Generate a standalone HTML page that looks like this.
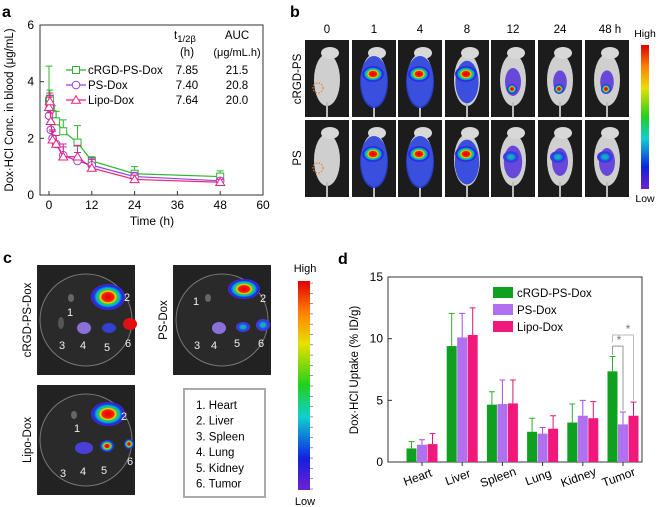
<!DOCTYPE html>
<html><head><meta charset="utf-8"><style>
body{margin:0;background:#fff}
svg{display:block;font-family:"Liberation Sans",Arial,sans-serif}
</style></head><body>
<svg id="fig" width="660" height="507" viewBox="0 0 660 507" xmlns="http://www.w3.org/2000/svg">
<defs>
<radialGradient id="heat" cx="50%" cy="50%" r="50%">
<stop offset="0" stop-color="#e00000"/><stop offset="0.35" stop-color="#ff2000"/><stop offset="0.45" stop-color="#f0e000"/><stop offset="0.55" stop-color="#20d040"/><stop offset="0.68" stop-color="#10b0e0"/><stop offset="0.85" stop-color="#1030e0"/><stop offset="1" stop-color="#6020d0"/></radialGradient>
<radialGradient id="heatlow" cx="50%" cy="50%" r="50%">
<stop offset="0" stop-color="#20c060"/><stop offset="0.35" stop-color="#10a0e0"/><stop offset="0.7" stop-color="#2040e0"/><stop offset="1" stop-color="#6a30d8"/></radialGradient>
<linearGradient id="cbar" x1="0" y1="0" x2="0" y2="1">
<stop offset="0" stop-color="#e00000"/><stop offset="0.15" stop-color="#ff8000"/><stop offset="0.3" stop-color="#e8e000"/><stop offset="0.5" stop-color="#20d020"/><stop offset="0.65" stop-color="#10d0d0"/><stop offset="0.85" stop-color="#1020e0"/><stop offset="1" stop-color="#7020d0"/></linearGradient>
</defs>
<g id="pa"></g>
<g id="pb"></g>
<g id="pc"></g>
<g id="pd"></g>
</svg>
<script>
// ---- Panel a data ----
const timesA = [0, 0.25, 0.5, 1, 2, 4, 8, 12, 24, 48];
const greenA = [3.3, 3.4, 3.0, 2.85, 2.6, 2.25, 1.85, 1.2, 0.75, 0.65];
const greenErrA = [1.25, 0.3, 0.3, 0.3, 0.35, 0.4, 0.6, 0.15, 0.25, 0.2];
const purpleA = [2.8, 3.1, 2.3, 2.0, 1.8, 1.4, 1.2, 1.05, 0.65, 0.5];
const purpleErrA = [0.5, 0.4, 0.3, 0.3, 0.3, 0.3, 0.3, 0.25, 0.15, 0.1];
const pinkA = [3.1, 3.3, 2.6, 1.95, 1.8, 1.35, 1.35, 0.95, 0.55, 0.45];
const pinkErrA = [0.35, 0.3, 0.3, 0.3, 0.3, 0.45, 0.4, 0.3, 0.15, 0.1];
const xTicksA = [0, 12, 24, 36, 48, 60];
const yTicksA = [0, 2, 4, 6];
// ---- Panel d data ----
const organs = ["Heart", "Liver", "Spleen", "Lung", "Kidney", "Tumor"];
const cRGD = [1.1, 9.4, 4.65, 2.45, 3.2, 7.35];
const cRGDErr = [0.55, 2.65, 1.05, 1.1, 1.5, 1.2];
const psDox = [1.4, 10.1, 4.7, 2.3, 3.75, 3.05];
const psDoxErr = [0.4, 1.95, 1.95, 0.5, 1.25, 1.0];
const lipoDox = [1.45, 10.3, 4.75, 2.7, 3.55, 3.75];
const lipoDoxErr = [0.85, 2.2, 1.9, 1.05, 1.35, 1.1];
const yTicksD = [0, 5, 10, 15];

const NS = "http://www.w3.org/2000/svg";
function mk(parent, tag, attrs, text){
  const e = document.createElementNS(NS, tag);
  for (const k in attrs) e.setAttribute(k, attrs[k]);
  if (text !== undefined) e.textContent = text;
  parent.appendChild(e); return e;
}
// ===== Panel a =====
const pa = document.getElementById('pa');
const xA = t => 49 + t * (214 / 60);
const yA = v => 195 - v * (170 / 6);
let t = mk(pa,'text',{x:2,y:17,'font-size':16,'font-weight':'bold'},'a');


let fr = mk(pa,'rect',{x:40,y:25,width:223,height:170,fill:'none',stroke:'#333','stroke-width':1});


xTicksA.forEach(v=>{
  const tk = mk(pa,'line',{x1:xA(v),x2:xA(v),y1:195,y2:191,stroke:'#333'});
  
  
  const lb = mk(pa,'text',{x:xA(v),y:209,'font-size':12,'text-anchor':'middle'},v);
  
  
});
yTicksA.forEach(v=>{
  const tk = mk(pa,'line',{x1:40,x2:44,y1:yA(v),y2:yA(v),stroke:'#333'});
  
  
  const lb = mk(pa,'text',{x:34,y:yA(v)+4,'font-size':12,'text-anchor':'end'},v);
  
  
});
t = mk(pa,'text',{x:152,y:225,'font-size':12,'text-anchor':'middle'},'Time (h)');


t = mk(pa,'text',{x:0,y:0,'font-size':11.5,'text-anchor':'middle',transform:'translate(13,110) rotate(-90)'},'Dox·HCl Conc. in blood (μg/mL)');


const seriesA = [
  {vals:greenA, err:greenErrA, color:'#2cb52c', mark:'square', name:'cRGD-PS-Dox'},
  {vals:purpleA, err:purpleErrA, color:'#9a3fe0', mark:'circle', name:'PS-Dox'},
  {vals:pinkA, err:pinkErrA, color:'#e8227f', mark:'triangle', name:'Lipo-Dox'}
];
function marker(g, type, x, y, color){
  let m;
  if (type==='square') m = mk(g,'rect',{x:x-3.5,y:y-3.5,width:7,height:7,fill:'#fff',stroke:color,'stroke-width':1});
  else if (type==='circle') m = mk(g,'circle',{cx:x,cy:y,r:3.8,fill:'#fff',stroke:color,'stroke-width':1});
  else m = mk(g,'polygon',{points:`${x},${y-4.2} ${x+4.5},${y+3.2} ${x-4.5},${y+3.2}`,fill:'#fff',stroke:color,'stroke-width':1});
  return m;
}
seriesA.forEach(s=>{
  const g = mk(pa,'g',{});
  
  
  const pts = timesA.map((tt,i)=>xA(tt)+','+yA(s.vals[i])).join(' ');
  const ln = mk(g,'polyline',{points:pts,fill:'none',stroke:s.color,'stroke-width':1.2});
  
  
  timesA.forEach((tt,i)=>{
    const x = xA(tt), y1 = yA(s.vals[i]), y2 = yA(s.vals[i]+s.err[i]);
    const eb = mk(g,'path',{d:`M${x},${y1}V${y2}M${x-3.5},${y2}H${x+3.5}`,stroke:s.color,fill:'none','stroke-width':1});
    
    
    const m = marker(g,s.mark,x,y1,s.color);
    
    
  });
});
const tblT = ['7.85','7.40','7.64'], tblA = ['21.5','20.8','20.0'];
seriesA.forEach((s,i)=>{
  const y = 70 + i*15;
  const g = mk(pa,'g',{});
  
  
  mk(g,'line',{x1:66,x2:86,y1:y,y2:y,stroke:s.color,'stroke-width':1.2});
  marker(g,s.mark,76,y,s.color);
  mk(g,'text',{x:88,y:y+4,'font-size':11.5},s.name);
  const a = mk(pa,'text',{x:187,y:y+4,'font-size':11.5,'text-anchor':'middle'},tblT[i]);
  
  
  const b = mk(pa,'text',{x:237,y:y+4,'font-size':11.5,'text-anchor':'middle'},tblA[i]);
  
  
});
t = mk(pa,'text',{x:174,y:39,'font-size':11.5});


t.innerHTML = 't<tspan font-size="9.5" dy="3">1/2β</tspan>';
mk(pa,'text',{x:187,y:56,'font-size':11.5,'text-anchor':'middle'},'(h)');
t = mk(pa,'text',{x:237,y:39,'font-size':11.5,'text-anchor':'middle'},'AUC');


mk(pa,'text',{x:237,y:56,'font-size':11,'text-anchor':'middle'},'(μg/mL.h)');

// ===== Panel b =====
const pb = document.getElementById('pb');
t = mk(pb,'text',{x:290,y:17,'font-size':16,'font-weight':'bold'},'b');


const colX = [305,352,398,445,491,538,585];
const colLab = ['0','1','4','8','12','24','48 h'];
const rowY = [40,120];
colLab.forEach((l,i)=>{
  const tx = mk(pb,'text',{x:colX[i]+22+(i===6?3:0),y:33,'font-size':11.5,'text-anchor':'middle'},l);
  
  
});
[['cRGD-PS',79],['PS',158]].forEach(([l,y])=>{
  const tx = mk(pb,'text',{x:0,y:0,'font-size':11.5,'text-anchor':'middle',transform:`translate(301,${y}) rotate(-90)`},l);
  
  
});
const blob = [[0,0],[1,1],[1,1],[0.8,0.8],[0.5,0.3],[0.4,0.25],[0.4,0.25],[0,0],[1,1],[1,1],[0.85,0.8],[0.6,0.6],[0.5,0.3],[0.5,0.3]];
rowY.forEach((y,r)=>colX.forEach((x,c)=>{
  const g = mk(pb,'g',{});
  
  
  mk(g,'rect',{x:x,y:y,width:44,height:77,fill:'#1c1c1c'});
  mk(g,'ellipse',{cx:x+22,cy:y+40,rx:13,ry:26,fill:'#cfcfcf'});
  mk(g,'ellipse',{cx:x+25,cy:y+13,rx:9,ry:6,fill:'#d8d8d8'});
  mk(g,'rect',{x:x+21,y:y+62,width:2,height:15,fill:'#bbb'});
  const b = blob[r*7+c];
  if (b[0]>0){
    const big = b[0]>0.7;
    mk(g,'ellipse',{cx:x+22,cy:y+42,rx:12*b[0]+2,ry:24*b[0]+2,fill:big?'#2a40e0':'#5a3ad8',opacity:0.9});
    if (big) mk(g,'ellipse',{cx:x+21,cy:y+34,rx:11,ry:8,fill:'url(#heat)'});
    else if (r===0) mk(g,'ellipse',{cx:x+21,cy:y+49,rx:5,ry:5,fill:'url(#heat)'});
    else mk(g,'ellipse',{cx:x+20,cy:y+37,rx:8,ry:6,fill:'url(#heatlow)'});
  } else {
    mk(g,'circle',{cx:x+13,cy:y+48,r:5,fill:'none',stroke:'#f08020','stroke-width':1.2,'stroke-dasharray':'1.5 1.5'});
  }
}));
let cb = mk(pb,'rect',{x:641,y:45,width:8,height:144,fill:'url(#cbar)'});


mk(pb,'text',{x:645,y:37,'font-size':10.5,'text-anchor':'middle'},'High');
mk(pb,'text',{x:645,y:202,'font-size':10.5,'text-anchor':'middle'},'Low');

// ===== Panel c =====
const pc = document.getElementById('pc');
t = mk(pc,'text',{x:3,y:263,'font-size':16,'font-weight':'bold'},'c');


function dish(x,y,label,lx,blobs,nums){
  const g = mk(pc,'g',{});
  
  
  mk(g,'rect',{x:x,y:y,width:98,height:110,fill:'#222'});
  mk(g,'circle',{cx:x+49,cy:y+55,r:46,fill:'#2a2a2a',stroke:'#777','stroke-width':1});
  blobs.forEach(b=>mk(g,'ellipse',{cx:x+b[0],cy:y+b[1],rx:b[2],ry:b[3],fill:b[4]}));
  nums.forEach((p,i)=>{
    mk(g,'text',{x:x+p[0],y:y+p[1]+4,'font-size':11,fill:'#eee','text-anchor':'middle'},String(i+1));
  });
  const tl = mk(pc,'text',{x:0,y:0,'font-size':11.5,'text-anchor':'middle',transform:`translate(${lx},${y+55}) rotate(-90)`},label);
  
  
}
dish(37,265,'cRGD-PS-Dox',31,
 [[71,32,17,13,'url(#heat)'],[47,63,7,6,'#8a70d8'],[72,63,7,5,'#3040d0'],[93,59,7,6,'#e01010'],[34,33,3,4,'#666'],[24,58,3,6,'#555']],
 [[33,47],[90,32],[25,80],[46,80],[70,82],[91,78]]);
dish(173,265,'PS-Dox',167,
 [[71,24,16,10,'url(#heat)'],[46,63,7,6,'#8a70d8'],[70,62,7,5,'url(#heatlow)'],[90,60,7,6,'url(#heatlow)'],[35,33,3,4,'#666']],
 [[23,36],[90,33],[24,80],[41,80],[64,78],[88,78]]);
dish(37,385,'Lipo-Dox',31,
 [[71,29,17,12,'url(#heat)'],[47,63,9,6,'#4a40d8'],[70,61,7,6,'url(#heat)'],[92,59,5,5,'url(#heat)'],[37,30,3,4,'#666']],
 [[40,43],[87,31],[26,88],[46,86],[67,85],[93,76]]);
const lg = mk(pc,'g',{});


mk(lg,'rect',{x:184,y:389,width:81,height:108,fill:'#fff',stroke:'#aaa','stroke-width':2});
['1. Heart','2. Liver','3. Spleen','4. Lung','5. Kidney','6. Tumor'].forEach((s,i)=>mk(lg,'text',{x:196,y:409+i*15.7,'font-size':11.5},s));
cb = mk(pc,'rect',{x:298,y:281,width:12,height:209,fill:'url(#cbar)'});


for(let i=0;i<=20;i++) mk(pc,'line',{x1:310,x2:313,y1:283+i*10.3,y2:283+i*10.3,stroke:'#555','stroke-width':0.6});
mk(pc,'text',{x:305,y:272,'font-size':11,'text-anchor':'middle'},'High');
mk(pc,'text',{x:305,y:505,'font-size':11,'text-anchor':'middle'},'Low');

// ===== Panel d =====
const pd = document.getElementById('pd');
t = mk(pd,'text',{x:338,y:264,'font-size':16,'font-weight':'bold'},'d');


const yD = v => 462 - v*(185/15);
const xD = i => 422 + i*40.2;
fr = mk(pd,'rect',{x:388,y:277,width:254,height:185,fill:'none',stroke:'#333'});


yTicksD.forEach(v=>{
  mk(pd,'line',{x1:388,x2:392,y1:yD(v),y2:yD(v),stroke:'#333'});
  const lb = mk(pd,'text',{x:383,y:yD(v)+4,'font-size':12,'text-anchor':'end'},v);
  
  
});
t = mk(pd,'text',{x:0,y:0,'font-size':11.5,'text-anchor':'middle',transform:'translate(358,370) rotate(-90)'},'Dox·HCl Uptake (% ID/g)');


const seriesD = [[cRGD,cRGDErr,'#10a020',-10.5,'cRGD-PS-Dox','#2fae2f'],[psDox,psDoxErr,'#b070f0',0,'PS-Dox','#a050e0'],[lipoDox,lipoDoxErr,'#f0187a',10.5,'Lipo-Dox','#e0186a']];
seriesD.forEach(([vals,errs,col,off,name,ec])=>{
  vals.forEach((v,i)=>{
    const cx = xD(i)+off;
    const eb = mk(pd,'path',{d:`M${cx},${yD(v)}V${yD(v+errs[i])}M${cx-3},${yD(v+errs[i])}H${cx+3}`,stroke:ec,fill:'none','stroke-width':1});
    
    
    const r = mk(pd,'rect',{x:cx-5,y:yD(v),width:10,height:yD(0)-yD(v),fill:col});
    
    
  });
});
organs.forEach((o,i)=>{
  mk(pd,'line',{x1:xD(i),x2:xD(i),y1:462,y2:466,stroke:'#333'});
  const lb = mk(pd,'text',{x:0,y:0,'font-size':12,'text-anchor':'middle',transform:`translate(${xD(i)-3},${481}) rotate(-20)`},o);
  
  
});
seriesD.forEach(([v,e,col,off,name],i)=>{
  const g = mk(pd,'g',{});
  
  
  mk(g,'rect',{x:493,y:287+i*17,width:20,height:11,fill:col});
  mk(g,'text',{x:517,y:297+i*17,'font-size':11.5},name);
});
const sig = mk(pd,'g',{});


const tx = xD(5);
mk(sig,'path',{d:`M${tx-10.5},${yD(8.7)}V${yD(9.4)}H${tx}V${yD(4.2)}`,stroke:'#999',fill:'none'});
mk(sig,'path',{d:`M${tx-10.5},${yD(9.7)}V${yD(10.3)}H${tx+10.5}V${yD(5.0)}`,stroke:'#bbb',fill:'none'});
mk(sig,'text',{x:tx-4,y:yD(9.4)-2,'font-size':12,fill:'#777','text-anchor':'middle'},'*');
mk(sig,'text',{x:tx+5,y:yD(10.3)-2,'font-size':12,fill:'#777','text-anchor':'middle'},'*');
</script>
</body></html>
